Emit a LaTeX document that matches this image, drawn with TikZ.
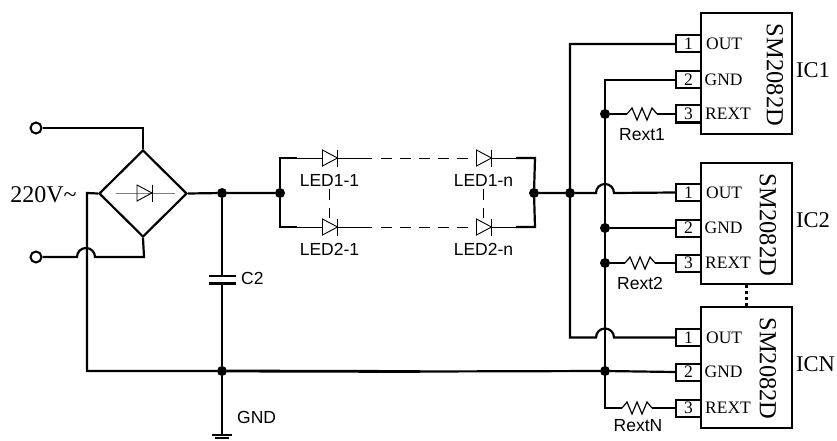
\documentclass[tikz,border=0pt]{standalone}
\usepackage{fontspec}
\setmainfont{Liberation Serif}
\setsansfont{Liberation Sans}
\usetikzlibrary{shapes.geometric}
\tikzset{
wire/.style={line width=2.2pt},
thinwire/.style={line width=0.9pt},
junction/.style={circle, fill=black, inner sep=0pt, minimum size=10pt},
terminal/.style={circle, draw, fill=white, line width=2pt, inner sep=0pt, minimum size=11pt},
chip/.style={rectangle, draw, line width=2pt, minimum width=91pt, minimum height=121pt, inner sep=0pt},
pinbox/.style={rectangle, draw, line width=2pt, fill=white, minimum width=25pt, minimum height=17pt, inner sep=0pt, font=\fontsize{17.5}{18}\selectfont},
pinname/.style={anchor=west, inner sep=0pt, font=\fontsize{17.5}{18}\selectfont},
partname/.style={rotate=-90, inner sep=0pt, font=\fontsize{24.5}{25}\selectfont},
chipname/.style={anchor=west, inner sep=0pt, font=\fontsize{22.5}{23}\selectfont},
lbl/.style={inner sep=0pt, font=\sffamily\fontsize{17.5}{18}\selectfont},
diodemark/.pic={\draw[line width=0.9pt] (-15,-8) -- (-15,8) -- (0,0) -- cycle; \draw[line width=0.9pt] (0,-8.5) -- (0,8.5);},
zigzag/.pic={\draw[line width=1.2pt] (0,0) -- (5,-6) -- (10,6) -- (15,-6) -- (20,6) -- (25,-6) -- (30,0);}
}

\begin{document}
\begin{tikzpicture}[x=1pt, y=-1pt]
	\useasboundingbox (0,0) rectangle (837,441);
	% mains side
	\node[terminal] (acone) at (36,128) {};
	\node[terminal] (actwo) at (36,257) {};
	\node[diamond, draw, line width=2.2pt, minimum width=88pt, minimum height=87pt, inner sep=0pt] (bridge) at (143,193.5) {};
	\node[font=\fontsize{24}{25}\selectfont, inner sep=0pt] (mains) at (43.5,195) {220V\char`~};
	\draw[line width=0.8pt, gray] (116,193) -- (175,193);
	\pic at (152,193) {diodemark};
	\draw[wire] (acone) -- (143,128) -- (bridge.north);
	\coordinate (hopa) at (77,257);
	\coordinate (hopb) at (144,257);
	\draw[wire] (actwo) -- (hopa) arc[start angle=180, end angle=360, radius=9] -- (hopb) -- (bridge.south);
	% rail and capacitor
	\node[junction] (vplus) at (222,193) {};
	\node[junction] (vzero) at (222,371) {};
	\node[junction] (ledin) at (280,193) {};
	\node[junction] (ledout) at (534,193) {};
	\coordinate (capa) at (222,276);
	\coordinate (capb) at (222,283.5);
	\coordinate (earth) at (222,435);
	\draw[wire] (bridge.east) -- (vplus) -- (ledin);
	\draw[wire] (bridge.west) -- (87,193) -- (87,371) -- (vzero);
	\draw[wire] (vplus) -- (capa);
	\draw[wire] (capb) -- (vzero) -- (earth);
	\draw[line width=2.4pt] (209,276) -- (236,276);
	\draw[line width=2.4pt] (209,283.5) -- (236,283.5);
	\draw[line width=2.6pt] (212,435) -- (232,435);
	\draw[line width=1.8pt] (215,438) -- (229,438);
	\node[lbl, anchor=west] (ctwo) at (241,278) {C2};
	\node[lbl, anchor=west] (gnd) at (237,417) {GND};
	% led strings
	\foreach \y/\s in {158/1, 227/2} {
		\coordinate (la\s) at (280,\y);
		\coordinate (lb\s) at (535,\y);
		\draw[wire] (ledin) -- (la\s) -- ++(17,0);
		\draw[wire] (ledout) -- (lb\s) -- ++(-19,0);
		\draw[thinwire] (la\s) -- (322,\y);
		\draw[thinwire] (338,\y) -- (372,\y);
		\draw[thinwire, dash pattern=on 11pt off 8pt] (381,\y) -- (476,\y);
		\draw[thinwire] (492,\y) -- (lb\s);
		\pic at (337.5,\y) {diodemark};
		\pic at (491.5,\y) {diodemark};
	}
	\node[lbl] (ledaa) at (329.5,180) {LED1-1};
	\node[lbl] (ledan) at (483.5,180) {LED1-n};
	\node[lbl] (ledba) at (329.5,249) {LED2-1};
	\node[lbl] (ledbn) at (483.5,249) {LED2-n};
	\draw[thinwire, dash pattern=on 11pt off 8pt] (329,189) -- (329,218);
	\draw[thinwire, dash pattern=on 11pt off 8pt] (483,189) -- (483,218);
	% chips
	\foreach \c/\y/\t/\px/\pa/\pb/\pc in {a/73.5/IC1/775/44/80/114, b/223.5/IC2/768/192.5/228/263, n/367/ICN/768/337.5/372/408} {
		\node[chip] (chip\c) at (746.5,\y) {};
		\node[pinbox] (pin\c1) at (688.5,\pa) {1};
		\node[pinbox] (pin\c2) at (688.5,\pb) {2};
		\node[pinbox] (pin\c3) at (688.5,\pc) {3};
		\node[pinname] (out\c) at (706,\pa) {OUT};
		\node[pinname] (gnd\c) at (704.5,\pb) {GND};
		\node[pinname] (rext\c) at (705,\pc) {REXT};
		\node[partname] (part\c) at (\px,\y+1.5) {SM2082D};
		\node[chipname] (name\c) at (796,\y-3) {\t};
	}
	\draw[line width=2.2pt, dash pattern=on 3pt off 3pt] (chipb.south) -- (chipn.north);
	% output and ground buses
	\node[junction] (outbus) at (570,193) {};
	\node[junction] (rjoina) at (605,114) {};
	\node[junction] (gjoinb) at (605,228) {};
	\node[junction] (rjoinb) at (605,263) {};
	\node[junction] (gjoinn) at (605,371) {};
	\coordinate (outtop) at (570,44);
	\coordinate (outbot) at (570,337.5);
	\coordinate (gndtop) at (605,80);
	\coordinate (gndbot) at (605,408);
	\draw[wire] (ledout) -- (outbus) -- (596,193) arc[start angle=180, end angle=360, radius=9] -- (pinb1.west);
	\draw[wire] (pina1.west) -- (outtop) -- (outbot) -- (596,337.5) arc[start angle=180, end angle=360, radius=9] -- (pinn1.west);
	\draw[wire] (pina2.west) -- (gndtop) -- (gndbot) -- (622,408);
	\draw[wire] (gjoinb) -- (pinb2.west);
	\draw[line width=2.8pt] (vzero) -- (420,371.5);
	\draw[wire] (420,371.5) -- (gjoinn) -- (pinn2.west);
	\draw[wire] (rjoina) -- (627,114);
	\draw[wire] (657,114) -- (pina3.west);
	\draw[wire] (rjoinb) -- (625,263);
	\draw[wire] (655,263) -- (pinb3.west);
	\draw[wire] (652,408) -- (pinn3.west);
	\pic at (627,114) {zigzag};
	\pic at (625,263) {zigzag};
	\pic at (622,408) {zigzag};
	\node[lbl] (rexta) at (642,135) {Rext1};
	\node[lbl] (rextb) at (640,283) {Rext2};
	\node[lbl] (rextn) at (638,426) {RextN};
\end{tikzpicture}
\end{document}
